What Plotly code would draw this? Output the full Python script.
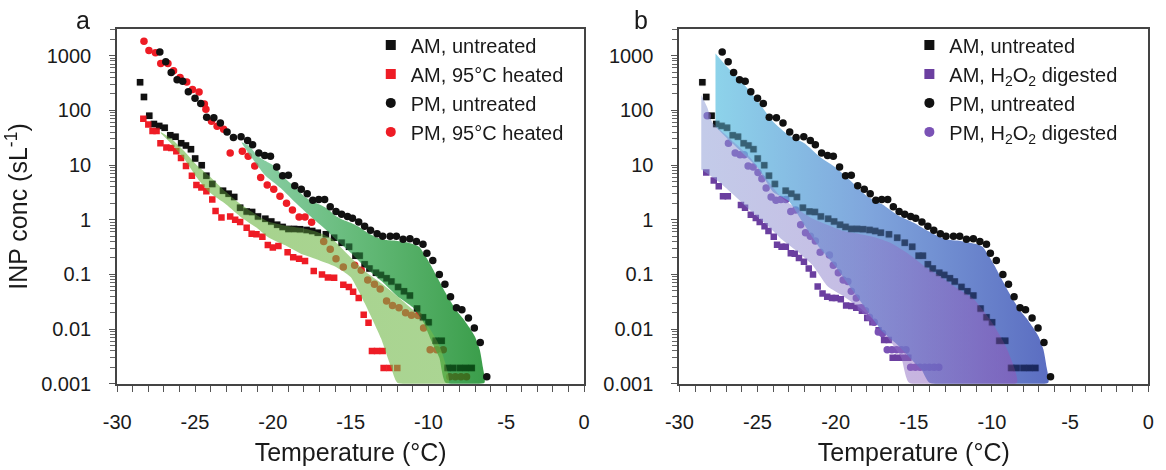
import plotly.graph_objects as go

# ---------------- data (temperature in °C, INP concentration in per std litre) -------------
am_untreated_T = [-28.53, -28.28, -27.94, -27.64, -27.30, -26.95, -26.59, -26.25, -25.89, -25.58,
                  -25.26, -24.99, -24.57, -24.27, -23.89, -23.20, -22.84, -22.48, -22.10, -21.68,
                  -21.33, -20.95, -20.48, -20.10, -19.72, -19.37, -19.00, -18.63, -18.25, -17.83,
                  -17.47, -17.11, -16.59, -16.06, -15.58, -15.10, -14.69, -14.42, -14.10, -13.79,
                  -13.37, -13.05, -12.69, -12.38, -11.95, -11.57, -11.19, -10.73, -10.35, -9.99,
                  -9.53, -9.15, -8.77, -8.42, -7.98, -7.60, -7.22]
am_untreated_c = [325, 176, 80, 56, 52, 48, 35, 33, 25, 22.8,
                  19.5, 13.2, 9.9, 6.4, 4.5, 3.4, 3.0, 2.6, 1.66, 1.41,
                  1.38, 1.15, 1.04, 0.93, 0.81, 0.74, 0.68, 0.68, 0.67, 0.65,
                  0.62, 0.58, 0.54, 0.47, 0.38, 0.32, 0.22, 0.22, 0.153, 0.128,
                  0.107, 0.098, 0.085, 0.074, 0.059, 0.049, 0.041, 0.0237, 0.0164, 0.0133,
                  0.0061, 0.0061, 0.00195, 0.00195, 0.00195, 0.00195, 0.00195]

pm_untreated_T = [-27.26, -26.88, -26.53, -26.15, -25.79, -25.43, -25.00, -24.63, -24.25, -23.79,
                  -23.37, -22.94, -22.53, -22.04, -21.62, -21.30, -20.90, -20.52, -20.15, -19.75,
                  -19.37, -19.00, -18.59, -18.17, -17.79, -17.43, -17.05, -16.67, -16.31, -15.94,
                  -15.58, -15.20, -14.88, -14.48, -14.10, -13.72, -13.30, -12.94, -12.46, -12.06,
                  -11.63, -11.19, -10.77, -10.35, -10.10, -9.72, -9.30, -8.94, -8.58, -8.20,
                  -7.85, -7.43, -7.05, -6.67, -6.25]
pm_untreated_c = [1165, 773, 490, 362, 339, 218, 166, 133, 75, 73,
                  59, 40, 32, 33, 28, 23.4, 16.6, 14.9, 14.5, 9.2,
                  6.4, 6.5, 4.2, 3.6, 3.0, 2.28, 2.35, 2.35, 1.73, 1.41,
                  1.26, 1.15, 1.07, 0.91, 0.76, 0.645, 0.556, 0.50, 0.50, 0.50,
                  0.44, 0.45, 0.40, 0.358, 0.244, 0.18, 0.10, 0.066, 0.039, 0.0247,
                  0.0225, 0.0159, 0.0105, 0.0057, 0.00135]

am_heated_T = [-28.32, -28.00, -27.73, -27.47, -27.22, -26.84, -26.53, -26.20, -25.90, -25.58,
               -25.20, -24.91, -24.59, -24.27, -23.89, -23.68, -23.30, -22.74, -22.42, -22.10,
               -21.68, -21.36, -21.05, -20.67, -20.32, -20.00, -19.64, -19.05, -18.69, -18.31,
               -17.93, -17.37, -16.84, -16.46, -16.06, -15.47, -15.11, -14.84, -14.48, -14.16,
               -13.85, -13.63, -13.30, -12.94, -12.88, -12.50, -12.00]
am_heated_c = [70, 55, 42, 42, 25, 21, 20.6, 17.8, 13.5, 9.6,
               6.4, 4.3, 3.9, 3.3, 2.35, 1.45, 1.1, 1.15, 1.0, 0.91,
               0.71, 0.556, 0.54, 0.49, 0.346, 0.31, 0.33, 0.254, 0.207, 0.193,
               0.176, 0.116, 0.10, 0.088, 0.087, 0.065, 0.059, 0.048, 0.037, 0.0183,
               0.0131, 0.004, 0.004, 0.004, 0.00195, 0.00195, 0.00195]

pm_heated_T = [-28.28, -27.96, -27.54, -27.20, -26.74, -26.38, -25.96, -25.53, -25.16, -24.74,
               -24.40, -24.30, -23.94, -23.58, -23.16, -22.74, -21.96, -21.58, -21.16, -20.78,
               -20.36, -19.94, -19.54, -19.12, -18.74, -18.31, -17.93, -17.51, -16.73, -16.31,
               -15.94, -15.47, -14.74, -14.32, -13.90, -13.47, -13.10, -12.69, -12.31, -11.89,
               -11.47, -11.09, -10.67, -10.31, -9.89, -9.47, -9.05, -8.63, -8.27, -7.91, -7.55]
pm_heated_c = [1830, 1245, 1130, 720, 720, 532, 398, 330, 240, 216,
               130, 105, 63, 51, 45, 16.6, 17.8, 14.5, 9.6, 5.9,
               4.3, 3.6, 2.7, 2.0, 1.5, 1.12, 1.12, 0.9, 0.40, 0.29,
               0.193, 0.137, 0.147, 0.119, 0.079, 0.066, 0.054, 0.0325, 0.027, 0.0247,
               0.020, 0.018, 0.0177, 0.0105, 0.0042, 0.0042, 0.0042, 0.00135, 0.00135, 0.00135, 0.00135]

am_digested_T = [-28.28, -27.80, -27.48, -27.21, -26.90, -26.06, -25.80, -25.43, -25.11, -24.86,
                 -24.55, -24.30, -23.96, -23.75, -23.46, -23.19, -22.87, -22.62, -22.35, -22.03,
                 -21.72, -21.45, -21.15, -20.84, -20.54, -20.23, -19.99, -19.67, -19.33, -19.00,
                 -18.68, -18.32, -17.98, -17.65, -17.25, -16.90, -16.60, -16.35, -16.05, -15.70, -15.35]
am_digested_c = [7.3, 5.2, 4.1, 2.7, 2.7, 1.85, 1.66, 1.23, 1.08, 0.91,
                 0.76, 0.62, 0.49, 0.35, 0.32, 0.32, 0.244, 0.24, 0.2, 0.17,
                 0.128, 0.1, 0.06, 0.045, 0.039, 0.037, 0.037, 0.035, 0.027, 0.0265,
                 0.0247, 0.0216, 0.016, 0.0133, 0.0095, 0.0063, 0.0063, 0.003, 0.003, 0.003, 0.003]

pm_digested_T = [-28.22, -26.86, -26.43, -26.12, -25.85, -25.60, -25.28, -24.97, -24.72, -24.45,
                 -24.13, -23.82, -23.50, -23.19, -22.87, -22.56, -22.24, -21.93, -21.62, -21.30,
                 -20.99, -20.40, -20.15, -19.83, -19.52, -19.22, -19.00, -18.68, -18.36, -18.09,
                 -17.84, -17.53, -17.27, -17.00, -16.70, -16.40, -16.10, -15.80, -15.50, -15.20,
                 -14.90, -14.60, -14.30, -14.00, -13.70, -13.40]
pm_digested_c = [80, 25, 16.6, 15.5, 15.5, 9.6, 9.2, 7.3, 5.6, 3.8,
                 2.6, 2.28, 2.35, 2.35, 1.41, 1.5, 0.81, 0.58, 0.5, 0.41,
                 0.254, 0.227, 0.147, 0.107, 0.079, 0.074, 0.049, 0.037, 0.0247, 0.0216,
                 0.0164, 0.0133, 0.0089, 0.0083, 0.0042, 0.0042, 0.0042, 0.0042, 0.0042, 0.002,
                 0.002, 0.002, 0.002, 0.002, 0.002, 0.002]

# shaded ranges (upper and lower envelope, left to right)
a_pm_up_T = [-22.0, -21.5, -21.0, -20.5, -20.0, -19.5, -19.0, -18.5, -18.0, -17.5, -17.0, -16.5, -16.0, -15.5,
             -15.0, -14.5, -14.0, -13.5, -13.0, -12.5, -12.0, -11.5, -11.0, -10.6, -10.2, -9.8, -9.4, -9.0,
             -8.6, -8.2, -7.8, -7.4, -7.0, -6.7, -6.5, -6.4]
a_pm_up_c = [26, 22, 15, 12, 10, 7, 5, 3.8, 2.7, 2.2, 1.9, 1.6, 1.2, 1.0,
             0.88, 0.75, 0.6, 0.5, 0.44, 0.42, 0.41, 0.39, 0.36, 0.32, 0.22, 0.14, 0.085, 0.052,
             0.033, 0.022, 0.016, 0.011, 0.0072, 0.0042, 0.002, 0.00105]
a_pm_lo_T = [-22.0, -21.3, -20.5, -19.5, -18.5, -17.5, -16.7, -16.0, -15.0, -14.0, -13.0, -12.0,
             -11.0, -10.3, -9.8, -9.3, -8.9]
a_pm_lo_c = [26, 13, 6.5, 3.8, 2.0, 1.1, 0.7, 0.45, 0.25, 0.13, 0.075, 0.04,
             0.025, 0.013, 0.006, 0.003, 0.00105]

a_am_up_T = [-27.2, -26.5, -25.7, -24.9, -24.1, -23.0, -22.0, -21.0, -20.3, -19.2, -18.2, -17.2,
             -16.2, -15.1, -14.0, -13.05, -12.0, -10.8, -10.0, -9.3, -8.7]
a_am_up_c = [40, 30, 18, 10, 6.4, 3.2, 1.85, 1.2, 0.93, 0.78, 0.71, 0.6,
             0.45, 0.22, 0.11, 0.07, 0.04, 0.02, 0.011, 0.005, 0.00105]
a_am_lo_T = [-27.2, -26.5, -25.7, -24.9, -24.1, -23.0, -22.0, -21.0, -20.3, -19.2, -18.2, -17.2,
             -16.0, -15.0, -14.1, -13.05, -12.4, -12.0]
a_am_lo_c = [38, 24, 13, 6, 3.2, 1.9, 1.09, 0.7, 0.48, 0.34, 0.24, 0.19,
             0.14, 0.09, 0.03, 0.0068, 0.002, 0.00105]

b_pm_up_T = [-27.69, -27.0, -26.0, -25.0, -24.0, -23.0, -22.0, -21.0, -20.0, -19.0, -18.0, -17.0,
             -16.0, -15.0, -14.0, -13.0, -12.0, -11.0, -10.6, -10.2, -9.8, -9.4, -9.0, -8.6, -8.2,
             -7.8, -7.4, -7.0, -6.7, -6.5, -6.4]
b_pm_up_c = [1100, 650, 330, 150, 62, 35, 25, 14, 9, 5, 2.7, 1.9,
             1.2, 0.88, 0.6, 0.44, 0.41, 0.36, 0.32, 0.22, 0.14, 0.085, 0.052, 0.033, 0.022,
             0.016, 0.011, 0.0072, 0.0042, 0.002, 0.00105]
b_pm_lo_T = [-27.69, -26.86, -26.0, -25.0, -24.0, -23.0, -22.0, -21.0, -20.0, -19.0, -18.0, -17.0,
             -16.0, -15.0, -14.5, -14.0]
b_pm_lo_c = [50, 29, 17, 9, 3.2, 2.2, 0.8, 0.3, 0.14, 0.055, 0.022, 0.009,
             0.005, 0.0025, 0.0018, 0.00105]

b_am_up_T = [-28.6, -28.2, -27.9, -27.3, -26.5, -25.5, -24.5, -23.5, -22.5, -21.5, -20.5, -19.5,
             -18.5, -17.5, -16.5, -15.35, -14.3, -13.25, -12.2, -11.15, -9.9, -9.06, -8.4]
b_am_up_c = [190, 110, 60, 42, 26, 14, 6, 2.6, 1.6, 1.05, 0.8, 0.62,
             0.55, 0.48, 0.38, 0.24, 0.14, 0.09, 0.055, 0.035, 0.012, 0.0045, 0.00105]
b_am_lo_T = [-28.6, -27.5, -26.5, -25.5, -24.5, -23.5, -22.5, -21.5, -20.5, -19.5, -18.5, -17.5,
             -16.5, -15.8, -15.3]
b_am_lo_c = [8.3, 5, 2.8, 1.5, 0.85, 0.45, 0.27, 0.15, 0.06, 0.04, 0.025, 0.014,
             0.006, 0.003, 0.00105]

tick_T = [-30, -25, -20, -15, -10, -5, 0]
tick_T_text = ["-30", "-25", "-20", "-15", "-10", "-5", "0"]
tick_c = [0.001, 0.01, 0.1, 1, 10, 100, 1000]
tick_c_text = ["0.001", "0.01", "0.1", "1", "10", "100", "1000"]

# ---------------- styling ----------------
FONT = "Liberation Sans, Arial, sans-serif"
BLACK = "#111111"
RED = "#ee1c25"
PURPLE_SQ = "#6b3fa0"
PURPLE_CI = "#7a52b5"

fig = go.Figure()


def markers(T, c, color, symbol, size, xa, ya, opacity=1.0):
    fig.add_trace(go.Scatter(x=T, y=c, mode="markers", xaxis=xa, yaxis=ya, showlegend=False,
                             hoverinfo="skip", opacity=opacity,
                             marker=dict(color=color, symbol=symbol, size=size, line=dict(width=0))))


def band(upT, upc, loT, loc, xa, ya, scale, start, stop):
    xs = list(upT) + list(loT)[::-1]
    ys = list(upc) + list(loc)[::-1]
    fig.add_trace(go.Scatter(x=xs, y=ys, mode="lines", xaxis=xa, yaxis=ya, showlegend=False,
                             hoverinfo="skip", fill="toself",
                             line=dict(width=0, shape="spline", smoothing=0.5),
                             fillgradient=dict(type="horizontal", colorscale=scale,
                                               start=start, stop=stop)))


def legend_item(name, color, symbol, legend):
    fig.add_trace(go.Scatter(x=[None], y=[None], mode="markers", name=name, legend=legend,
                             marker=dict(color=color, symbol=symbol, size=10, line=dict(width=0))))


# panel a
markers(am_untreated_T, am_untreated_c, BLACK, "square", 6.5, "x", "y")
markers(am_heated_T, am_heated_c, RED, "square", 6.5, "x", "y")
markers(pm_heated_T, pm_heated_c, RED, "circle", 7.5, "x", "y")
band(a_pm_up_T, a_pm_up_c, a_pm_lo_T, a_pm_lo_c, "x", "y",
     [[0, "rgba(103,192,139,0.75)"], [0.45, "rgba(51,164,78,0.75)"], [1, "rgba(0,128,20,0.78)"]],
     -22.0, -6.4)
band(a_am_up_T, a_am_up_c, a_am_lo_T, a_am_lo_c, "x", "y",
     [[0, "rgba(105,180,63,0.6)"], [1, "rgba(115,185,75,0.6)"]], -27.2, -8.7)
markers(am_untreated_T, am_untreated_c, BLACK, "square", 6.5, "x", "y", opacity=0.35)
markers(pm_untreated_T, pm_untreated_c, BLACK, "circle", 7.5, "x", "y")

# panel b
markers(am_untreated_T, am_untreated_c, BLACK, "square", 6.5, "x2", "y2")
markers(am_digested_T, am_digested_c, PURPLE_SQ, "square", 6.5, "x2", "y2")
markers(pm_digested_T, pm_digested_c, PURPLE_CI, "circle", 7.5, "x2", "y2")
band(b_pm_up_T, b_pm_up_c, b_pm_lo_T, b_pm_lo_c, "x2", "y2",
     [[0, "rgba(103,196,227,0.75)"], [0.45, "rgba(85,136,209,0.75)"], [1, "rgba(35,58,171,0.75)"]],
     -27.7, -6.4)
band(b_am_up_T, b_am_up_c, b_am_lo_T, b_am_lo_c, "x2", "y2",
     [[0, "rgba(135,151,211,0.5)"], [0.5, "rgba(140,120,200,0.5)"], [1, "rgba(150,80,180,0.5)"]],
     -28.6, -8.4)
markers(am_untreated_T, am_untreated_c, BLACK, "square", 6.5, "x2", "y2", opacity=0.35)
markers(pm_untreated_T, pm_untreated_c, BLACK, "circle", 7.5, "x2", "y2")

# legends
legend_item("AM, untreated", BLACK, "square", "legend")
legend_item("AM, 95°C heated", RED, "square", "legend")
legend_item("PM, untreated", BLACK, "circle", "legend")
legend_item("PM, 95°C heated", RED, "circle", "legend")
legend_item("AM, untreated", BLACK, "square", "legend2")
legend_item("AM, H<sub>2</sub>O<sub>2</sub> digested", PURPLE_SQ, "square", "legend2")
legend_item("PM, untreated", BLACK, "circle", "legend2")
legend_item("PM, H<sub>2</sub>O<sub>2</sub> digested", PURPLE_CI, "circle", "legend2")

W, H = 1166, 470
minor_vals = [m * 10.0 ** e for e in range(-3, 4) for m in range(2, 10)]

xcommon = dict(range=[-30, 0], tickmode="array", tickvals=tick_T, ticktext=tick_T_text,
               ticks="outside", ticklen=6, ticklabelstandoff=13,
               tickwidth=1.3, tickcolor="#555555", showline=True, linecolor="#444444", linewidth=2,
               mirror=True, showgrid=False, zeroline=False,
               tickfont=dict(family=FONT, size=20, color="#1a1a1a"),
               minor=dict(dtick=1, tick0=0, ticks="outside", ticklen=6, tickwidth=1.3,
                          tickcolor="#555555", showgrid=False))
ycommon = dict(type="log", range=[-3, 3.482], tickmode="array", tickvals=tick_c,
               ticktext=tick_c_text, ticks="outside", ticklen=6, tickwidth=1.3,
               ticklabelstandoff=14,
               tickcolor="#555555", showline=True, linecolor="#444444", linewidth=2, mirror=True,
               showgrid=False, zeroline=False,
               tickfont=dict(family=FONT, size=20, color="#1a1a1a"),
               minor=dict(tickmode="array", tickvals=minor_vals, ticks="outside", ticklen=5,
                          tickwidth=1, tickcolor="#666666", showgrid=False),
               domain=[77 / H, 440 / H])

fig.update_layout(
    width=W, height=H, autosize=False, margin=dict(l=0, r=0, t=0, b=0),
    paper_bgcolor="white", plot_bgcolor="white",
    font=dict(family=FONT, color="#1a1a1a"),
    xaxis=dict(xcommon, domain=[105 / W, 580 / W], anchor="y",
               title=dict(text="Temperature (°C)", font=dict(family=FONT, size=25), standoff=12)),
    xaxis2=dict(xcommon, domain=[677 / W, 1154 / W], anchor="y2",
                title=dict(text="Temperature (°C)", font=dict(family=FONT, size=25), standoff=12)),
    yaxis=dict(ycommon, anchor="x",
               title=dict(text="INP conc (sL<sup>-1</sup>)", font=dict(family=FONT, size=25),
                          standoff=6)),
    yaxis2=dict(ycommon, anchor="x2"),
    legend=dict(x=363 / W, y=1 - 26 / H, xanchor="left", yanchor="top",
                bgcolor="rgba(0,0,0,0)", font=dict(family=FONT, size=20, color="#1a1a1a")),
    legend2=dict(x=911 / W, y=1 - 26 / H, xanchor="left", yanchor="top",
                 bgcolor="rgba(0,0,0,0)", font=dict(family=FONT, size=20, color="#1a1a1a")),
    annotations=[
        dict(text="a", x=70 / W, y=1 - 20 / H, xref="paper", yref="paper", showarrow=False,
             font=dict(family=FONT, size=25), xanchor="center", yanchor="middle"),
        dict(text="b", x=638 / W, y=1 - 20 / H, xref="paper", yref="paper", showarrow=False,
             font=dict(family=FONT, size=25), xanchor="center", yanchor="middle"),
    ],
)

fig.write_html("out.html")
